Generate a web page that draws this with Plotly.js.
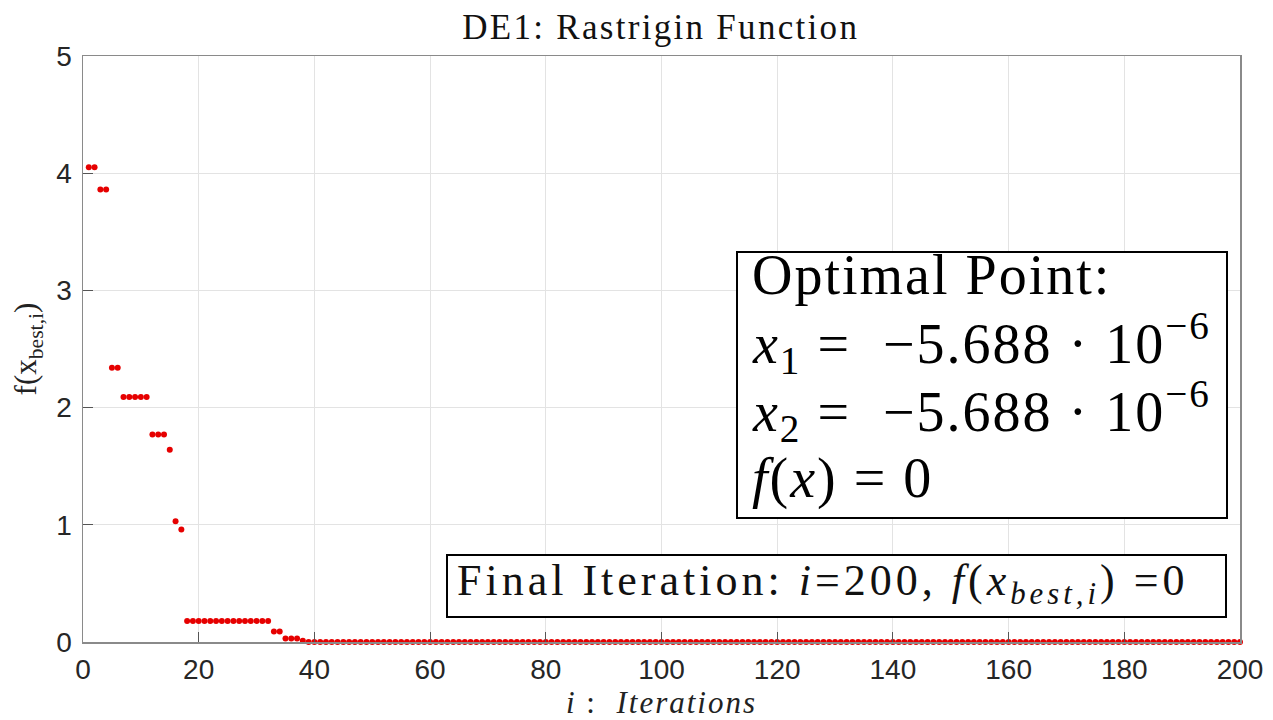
<!DOCTYPE html>
<html>
<head>
<meta charset="utf-8">
<script src="https://cdn.plot.ly/plotly-3.0.1.min.js"></script>
<style>html,body{margin:0;padding:0;background:#fff;}#chart{width:1273px;height:720px;}</style>
</head>
<body>
<div id="chart"></div>
<script>
// Best objective value per iteration
const fBest = [
  4.05, 4.05, 3.86, 3.86, 2.34, 2.34, 2.09, 2.09, 2.09, 2.09,
  2.09, 1.77, 1.77, 1.77, 1.64, 1.03, 0.96, 0.18, 0.18, 0.18,
  0.18, 0.18, 0.18, 0.18, 0.18, 0.18, 0.18, 0.18, 0.18, 0.18,
  0.18, 0.18, 0.09, 0.09, 0.03, 0.03, 0.03, 0.01, 0, 0,
  0, 0, 0, 0, 0, 0, 0, 0, 0, 0,
  0, 0, 0, 0, 0, 0, 0, 0, 0, 0,
  0, 0, 0, 0, 0, 0, 0, 0, 0, 0,
  0, 0, 0, 0, 0, 0, 0, 0, 0, 0,
  0, 0, 0, 0, 0, 0, 0, 0, 0, 0,
  0, 0, 0, 0, 0, 0, 0, 0, 0, 0,
  0, 0, 0, 0, 0, 0, 0, 0, 0, 0,
  0, 0, 0, 0, 0, 0, 0, 0, 0, 0,
  0, 0, 0, 0, 0, 0, 0, 0, 0, 0,
  0, 0, 0, 0, 0, 0, 0, 0, 0, 0,
  0, 0, 0, 0, 0, 0, 0, 0, 0, 0,
  0, 0, 0, 0, 0, 0, 0, 0, 0, 0,
  0, 0, 0, 0, 0, 0, 0, 0, 0, 0,
  0, 0, 0, 0, 0, 0, 0, 0, 0, 0,
  0, 0, 0, 0, 0, 0, 0, 0, 0, 0,
  0, 0, 0, 0, 0, 0, 0, 0, 0, 0
];
const iterations = fBest.map((v, k) => k + 1);
const xTicks = [0, 20, 40, 60, 80, 100, 120, 140, 160, 180, 200];
const yTicks = [0, 1, 2, 3, 4, 5];

const ls = (px, s) => '<span style="letter-spacing:' + px + 'px">' + s + '</span>';

const titleText = ls(2.3, 'DE1: Rastrigin Function');
const xTitleText = ls(2, '<i>i</i> :  <i>Iterations</i>');
const yTitleText = 'f(x<sub>best,i</sub>)';
const optimalLines = [
  'Optimal Point:',
  '<i>x</i><sub>1</sub> =  \u22125.688 \u00b7 10<sup>\u22126</sup>',
  '<i>x</i><sub>2</sub> =  \u22125.688 \u00b7 10<sup>\u22126</sup>',
  '<i>f</i>(<i>x</i>) = 0'
];
const finalText = 'Final Iteration: <i>i</i>=200, <i>f</i>(<i>x<sub>best,i</sub></i>) =0';

const serif = 'Liberation Serif, Times New Roman, serif';
const sans = 'Liberation Sans, Arial, Helvetica, sans-serif';

const trace = {
  x: iterations,
  y: fBest,
  type: 'scatter',
  mode: 'markers',
  marker: {color: '#e60000', size: 6},
  cliponaxis: false,
  hoverinfo: 'x+y'
};

const axisCommon = {
  showline: true, mirror: true, linecolor: '#8a8a8a', linewidth: 1.5,
  showgrid: true, gridcolor: '#e3e3e3', gridwidth: 1,
  ticks: 'inside', ticklen: 10, tickcolor: '#555', tickwidth: 1,
  zeroline: false,
  tickfont: {family: sans, size: 28, color: '#262626'}
};

// plot area: x 83..1240, y 56..642 (px)
const px2x = p => (p - 83) / 1157;
const px2y = p => (642 - p) / 586;

const lineCenters = [275, 343, 411, 478];
const optimalAnn = optimalLines.map((t, k) => ({
  xref: 'paper', yref: 'paper', x: px2x(750), y: px2y(lineCenters[k]),
  xanchor: 'left', yanchor: 'middle', showarrow: false, align: 'left',
  text: ls(2, t), font: {family: serif, size: 56, color: '#000'}
}));

const layout = {
  width: 1273, height: 720,
  paper_bgcolor: '#fff', plot_bgcolor: '#fff',
  margin: {l: 83, r: 33, t: 56, b: 78},
  showlegend: false,
  title: {text: titleText, x: 0.519, xanchor: 'center', y: 0.963, yanchor: 'middle',
          font: {family: serif, size: 35, color: '#111'}},
  xaxis: Object.assign({}, axisCommon, {
    range: [0, 200], tickvals: xTicks, ticktext: xTicks.map(String),
    ticklabelstandoff: 2,
    title: {text: xTitleText, standoff: 8, font: {family: serif, size: 31, color: '#222'}}
  }),
  yaxis: Object.assign({}, axisCommon, {
    range: [0, 5], tickvals: yTicks, ticktext: yTicks.map(String),
    ticklabelstandoff: 4,
    title: {text: yTitleText, standoff: 10, font: {family: serif, size: 31, color: '#222'}}
  }),
  shapes: [
    {type: 'rect', xref: 'paper', yref: 'paper', x0: px2x(737), x1: px2x(1227), y0: px2y(518), y1: px2y(252),
     line: {color: '#000', width: 2}, fillcolor: '#fff', layer: 'above'},
    {type: 'rect', xref: 'paper', yref: 'paper', x0: px2x(447), x1: px2x(1226), y0: px2y(617), y1: px2y(555),
     line: {color: '#000', width: 2}, fillcolor: '#fff', layer: 'above'}
  ],
  annotations: optimalAnn.concat([
    {xref: 'paper', yref: 'paper', x: px2x(455), y: px2y(583), xanchor: 'left', yanchor: 'middle',
     text: ls(4, finalText), showarrow: false, align: 'left',
     font: {family: serif, size: 44, color: '#111'}}
  ])
};

Plotly.newPlot('chart', [trace], layout, {displayModeBar: false, staticPlot: true});
</script>
</body>
</html>
